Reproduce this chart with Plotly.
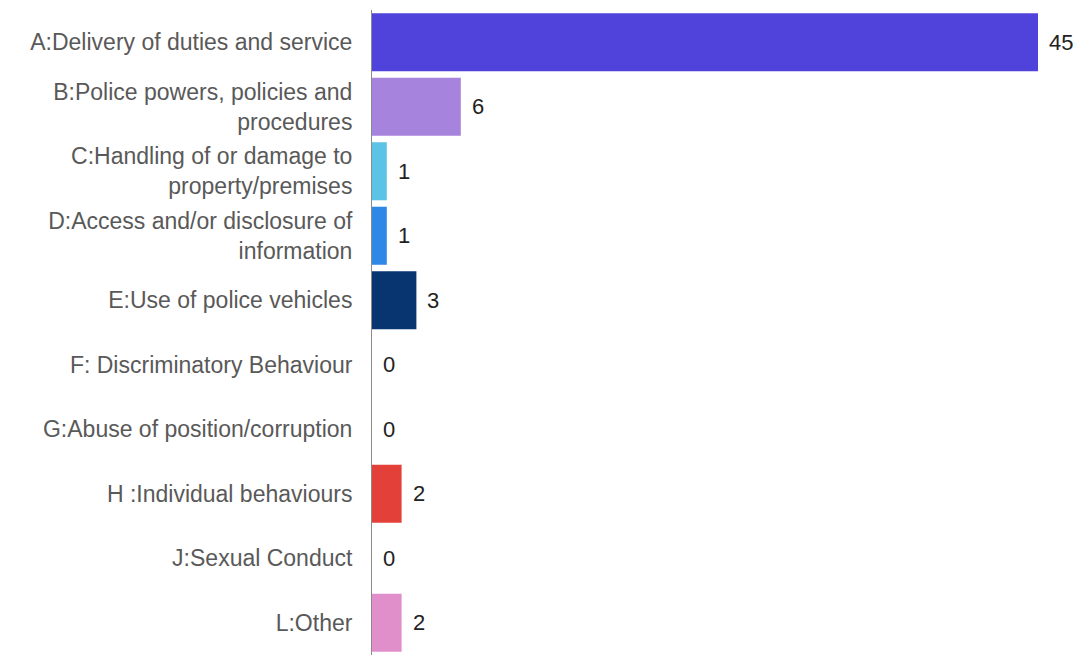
import plotly.graph_objects as go

# Complaint categories (top to bottom) and their counts
categories = [
    "A:Delivery of duties and service",
    "B:Police powers, policies and<br>procedures",
    "C:Handling of or damage to<br>property/premises",
    "D:Access and/or disclosure of<br>information",
    "E:Use of police vehicles",
    "F: Discriminatory Behaviour",
    "G:Abuse of position/corruption",
    "H :Individual behaviours",
    "J:Sexual Conduct",
    "L:Other",
]
counts = [45, 6, 1, 1, 3, 0, 0, 2, 0, 2]
bar_colors = [
    "#5043DB", "#A683DC", "#5BC3E6", "#2F87E6", "#08346F",
    "#888888", "#888888", "#E3403A", "#888888", "#E08FCB",
]

fig = go.Figure(
    go.Bar(
        x=counts,
        y=categories,
        orientation="h",
        marker=dict(color=bar_colors, line=dict(width=0)),
        hoverinfo="skip",
    )
)

# Value labels placed just to the right of each bar end
for cat, val in zip(categories, counts):
    fig.add_annotation(
        x=val, y=cat, text=str(val), showarrow=False,
        xanchor="left", yanchor="middle", xshift=9,
        font=dict(family="Liberation Sans, Arial", size=22, color="#222222"),
    )

fig.update_layout(
    width=1081, height=661,
    margin=dict(l=372, r=43, t=10, b=6),
    paper_bgcolor="white", plot_bgcolor="white",
    bargap=0.1,
    showlegend=False,
    font=dict(family="Liberation Sans, Arial", size=23, color="#595959"),
)
fig.update_xaxes(range=[0, 45], visible=False, fixedrange=True)
fig.update_yaxes(
    autorange="reversed",
    showline=True, linecolor="#8a8a8a", linewidth=1,
    showgrid=False, zeroline=False,
    ticks="outside", ticklen=14, tickcolor="rgba(0,0,0,0)",
    tickfont=dict(family="Liberation Sans, Arial", size=23, color="#595959"),
)

fig.write_html("out.html")
